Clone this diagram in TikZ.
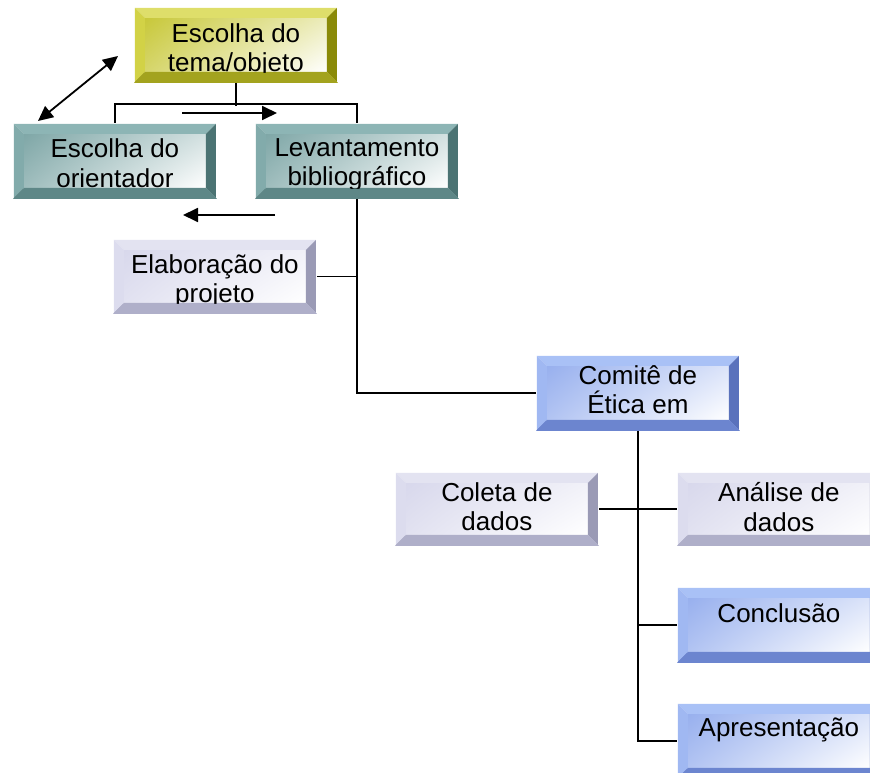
\documentclass[tikz,border=0pt]{standalone}
\usepackage{fontspec}
\setmainfont{Liberation Sans}
\usetikzlibrary{positioning,arrows.meta,shadings}

% bevel colours: face, top, left, right, bottom
\definecolor{yelFace}{HTML}{C8C83A}
\definecolor{yelTop}{HTML}{DEDE6A}
\definecolor{yelLeft}{HTML}{D2D246}
\definecolor{yelRight}{HTML}{8A8A08}
\definecolor{yelBot}{HTML}{A3A31E}
\definecolor{tealFace}{HTML}{7FA7A7}
\definecolor{tealTop}{HTML}{8DB5B5}
\definecolor{tealLeft}{HTML}{82ABAB}
\definecolor{tealRight}{HTML}{4B7373}
\definecolor{tealBot}{HTML}{5E8787}
\definecolor{blueFace}{HTML}{98B0EE}
\definecolor{blueTop}{HTML}{A9C1F6}
\definecolor{blueLeft}{HTML}{A0B8F2}
\definecolor{blueRight}{HTML}{5A72BC}
\definecolor{blueBot}{HTML}{6C85CF}
\definecolor{lavFace}{HTML}{D8D8EC}
\definecolor{lavTop}{HTML}{E3E3F1}
\definecolor{lavLeft}{HTML}{DCDCEE}
\definecolor{lavRight}{HTML}{9A9AB5}
\definecolor{lavBot}{HTML}{AFAFC9}

\tikzset{
  bevbox/.style={rectangle, minimum width=202pt, minimum height=74pt, inner sep=0pt, anchor=north west,
    path picture={
      \coordinate (bsw) at (path picture bounding box.south west);
      \coordinate (bne) at (path picture bounding box.north east);
      \coordinate (bnw) at (path picture bounding box.north west);
      \coordinate (bse) at (path picture bounding box.south east);
      \shade[upper left=#1Face, lower left=#1Face!75!white, upper right=#1Face!35!white, lower right=white]
        ([shift={(10pt,10pt)}]bsw) rectangle ([shift={(-10pt,-10pt)}]bne);
      \fill[#1Top] (bnw) -- (bne) -- ([shift={(-10pt,-10pt)}]bne) -- ([shift={(10pt,-10pt)}]bnw) -- cycle;
      \fill[#1Left] (bnw) -- (bsw) -- ([shift={(10pt,10pt)}]bsw) -- ([shift={(10pt,-10pt)}]bnw) -- cycle;
      \fill[#1Right] (bne) -- (bse) -- ([shift={(-10pt,10pt)}]bse) -- ([shift={(-10pt,-10pt)}]bne) -- cycle;
      \fill[#1Bot] (bsw) -- (bse) -- ([shift={(-10pt,10pt)}]bse) -- ([shift={(10pt,10pt)}]bsw) -- cycle;
    }},
  boxtext/.style={inner sep=0pt, align=center, font=\fontsize{26}{29.5}\selectfont},
  tip/.style={-{Triangle[length=15pt,width=14pt]}},
  tips/.style={{Triangle[length=15pt,width=14pt]}-{Triangle[length=15pt,width=14pt]}},
}

\begin{document}
\begin{tikzpicture}[x=1pt,y=-1pt,line width=1.8pt]
  \clip[use as bounding box] (0,0) rectangle (870,773);

  \node[bevbox=yel] (tema) at (134,7) {};
  \node[bevbox=teal] (orient) at (13,123) {};
  \node[bevbox=teal] (levant) at (255,123) {};
  \node[bevbox=lav, minimum height=73pt] (elab) at (113,239) {};
  \node[bevbox=blue] (comite) at (536,355) {};
  \node[bevbox=lav, minimum height=72pt] (coleta) at (395,472) {};
  \node[bevbox=lav, minimum height=72pt] (analise) at (677,472) {};
  \node[bevbox=blue] (conclusao) at (677,587) {};
  \node[bevbox=blue] (apres) at (677,703) {};

  \node[boxtext, below=15.5pt of tema.north] (tema-t) {Escolha do\\tema/objeto};
  \node[boxtext, below=15pt of orient.north] (orient-t) {Escolha do\\orientador};
  \node[boxtext, below=14.5pt of levant.north] (levant-t) {Levantamento\\bibliográfico};
  \node[boxtext, below=14.5pt of elab.north] (elab-t) {Elaboração do\\projeto};
  \node[boxtext, below=9.5pt of comite.north] (comite-t) {Comitê de\\Ética em};
  \node[boxtext, below=9.5pt of coleta.north] (coleta-t) {Coleta de\\dados};
  \node[boxtext, below=9.5pt of analise.north] (analise-t) {Análise de\\dados};
  \node[boxtext, below=16pt of conclusao.north] (conclusao-t) {Conclusão};
  \node[boxtext, below=14pt of apres.north] (apres-t) {Apresentação};

  % the lower bevel hides what runs out of the face
  \foreach \bx/\col in {tema/yel,orient/teal,levant/teal,elab/lav,comite/blue,coleta/lav,analise/lav,conclusao/blue,apres/blue}
    \fill[\col Bot] (\bx.south west) -- (\bx.south east) -- ([shift={(-10pt,10pt)}]\bx.south east) -- ([shift={(10pt,10pt)}]\bx.south west) -- cycle;

  % connectors
  \draw (tema.south) -- ++(0,23);
  \draw (orient.north) -- ++(0,-19) -| (levant.north);
  \draw (levant.south) |- (comite.west);
  \draw (elab.east) -- (elab.east -| levant.south);
  \draw (comite.south) |- (apres.west);
  \draw (conclusao.west) -- (conclusao.west -| comite.south);
  \draw (coleta.east) -- (analise.west);

  % arrows
  \coordinate (dbl-a) at (38,121);
  \coordinate (dbl-b) at (118,56);
  \coordinate (rgt-a) at (182,113);
  \coordinate (rgt-b) at (277,113);
  \coordinate (lft-a) at (275,215);
  \coordinate (lft-b) at (183,215);
  \draw[tips] (dbl-a) -- (dbl-b);
  \draw[tip] (rgt-a) -- (rgt-b);
  \draw[tip] (lft-a) -- (lft-b);
\end{tikzpicture}
\end{document}
